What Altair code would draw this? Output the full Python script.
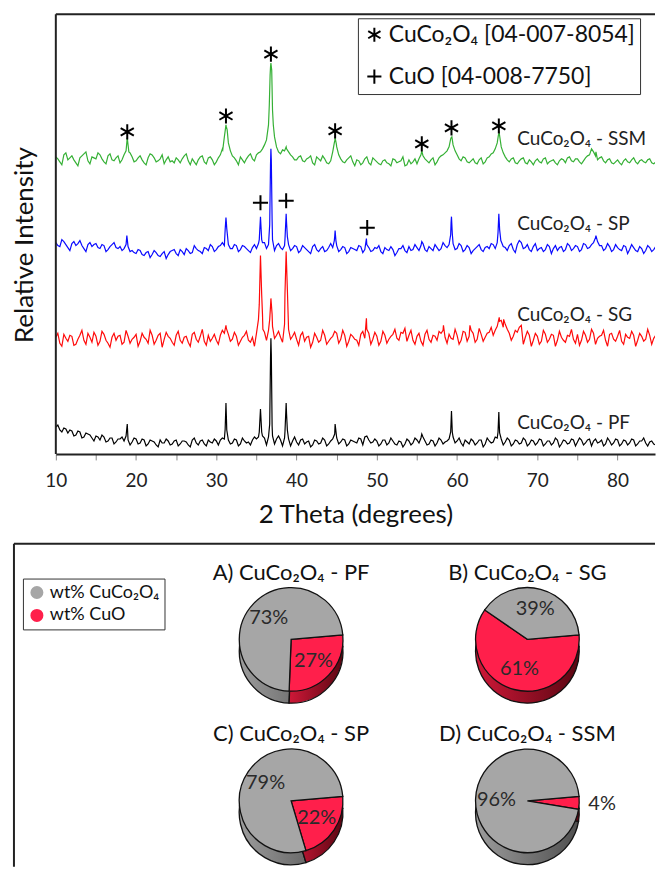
import math
import altair as alt
import pandas as pd

FONT = "Lato"

# ---------------- XRD patterns (relative intensity, arbitrary units incl. offsets) ----------------
two_theta = [round(10 + 0.5 * i, 1) for i in range(151)]
two_theta_mid = [round(10.25 + 0.5 * i, 2) for i in range(150)]

ssm_counts = [
    298, 293, 300, 295, 299, 292, 297, 301, 294, 298,
    296, 300, 293, 299, 295, 297, 292, 300, 310, 298,
    294, 299, 292, 297, 300, 293, 296, 291, 298, 294,
    297, 292, 299, 294, 296, 290, 298, 293, 297, 295,
    293, 300, 318, 312, 299, 294, 298, 292, 299, 296,
    300, 303, 310, 330, 345, 308, 301, 304, 303, 298,
    295, 299, 293, 297, 292, 298, 294, 296, 291, 303,
    308, 296, 292, 297, 293, 295, 290, 296, 292, 297,
    293, 290, 295, 291, 296, 292, 294, 289, 295, 293,
    291, 300, 296, 292, 297, 293, 299, 302, 308, 310,
    300, 294, 297, 292, 296, 291, 297, 293, 298, 302,
    312, 308, 298, 293, 297, 291, 296, 292, 295, 290,
    296, 292, 297, 293, 295, 290, 296, 292, 298, 293,
    296, 291, 297, 300, 303, 295, 298, 292, 296, 291,
    295, 290, 296, 292, 297, 291, 295, 292, 296, 291,
    294,
]
ssm_counts_mid = [
    296, 290, 302, 297, 295, 289, 299, 303, 291, 297,
    302, 296, 291, 301, 294, 299, 295, 304, 302, 293,
    297, 295, 290, 301, 297, 294, 300, 295, 293, 292,
    295, 296, 301, 290, 293, 295, 299, 291, 298, 290,
    297, 306, 328, 304, 297, 290, 295, 296, 301, 294,
    302, 306, 315, 388, 318, 303, 305, 306, 300, 295,
    298, 294, 296, 299, 290, 296, 299, 292, 294, 314,
    300, 293, 295, 299, 289, 294, 292, 298, 290, 295,
    291, 294, 292, 289, 295, 293, 298, 290, 291, 296,
    296, 299, 294, 295, 290, 297, 300, 304, 317, 304,
    296, 298, 293, 294, 292, 295, 291, 297, 301, 306,
    322, 302, 295, 296, 292, 294, 297, 291, 293, 294,
    293, 296, 291, 294, 292, 294, 295, 297, 294, 296,
    293, 294, 299, 306, 299, 297, 294, 295, 292, 293,
    292, 294, 293, 295, 293, 294, 293, 295, 292, 293,
]
ssm_peak_theta = [18.9, 19.1, 30.8, 31.2, 31.35, 36.6, 36.7, 36.8, 36.9, 37.1,
                  38.7, 44.7, 44.8, 44.95, 55.6, 59.2, 59.35, 65.15, 77.3]
ssm_peak_counts = [317, 303, 305, 330, 325, 350, 380, 392, 385, 330,
                   308, 312, 317, 311, 304, 316, 318, 320, 303]

sp_counts = [
    212, 208, 213, 207, 211, 209, 214, 206, 210, 208,
    211, 206, 209, 205, 210, 207, 208, 206, 208, 204,
    201, 204, 199, 203, 200, 202, 198, 203, 200, 204,
    201, 205, 200, 204, 202, 206, 203, 207, 204, 208,
    205, 209, 209, 210, 206, 209, 205, 208, 204, 207,
    206, 238, 212, 210, 215, 209, 207, 209, 210, 206,
    208, 204, 207, 203, 208, 205, 206, 203, 207, 207,
    209, 205, 207, 203, 206, 204, 208, 205, 207, 204,
    206, 203, 207, 204, 205, 202, 206, 204, 208, 205,
    207, 209, 205, 208, 204, 207, 206, 209, 210, 211,
    206, 209, 205, 207, 204, 208, 205, 207, 206, 210,
    212, 213, 207, 209, 205, 210, 212, 207, 205, 208,
    204, 207, 205, 208, 206, 204, 208, 205, 209, 206,
    208, 205, 210, 207, 212, 213, 209, 206, 208, 205,
    207, 204, 208, 205, 207, 203, 206, 204, 207, 205,
    206,
]
sp_counts_mid = [
    209, 215, 210, 204, 213, 211, 209, 203, 212, 210,
    207, 210, 203, 208, 212, 206, 204, 210, 203, 202,
    205, 200, 202, 197, 204, 199, 201, 196, 203, 205,
    199, 203, 206, 201, 209, 204, 201, 206, 210, 203,
    208, 212, 232, 206, 210, 203, 209, 206, 202, 210,
    211, 212, 206, 290, 204, 211, 205, 232, 204, 209,
    202, 209, 205, 201, 210, 203, 208, 204, 211, 218,
    203, 208, 201, 207, 205, 209, 202, 210, 203, 207,
    209, 201, 205, 208, 199, 206, 209, 202, 204, 210,
    204, 211, 203, 206, 210, 204, 212, 207, 232, 205,
    211, 203, 209, 201, 206, 210, 203, 208, 211, 206,
    233, 208, 204, 211, 202, 214, 206, 210, 203, 211,
    206, 203, 210, 201, 209, 207, 203, 211, 204, 209,
    203, 211, 206, 210, 217, 209, 204, 211, 203, 210,
    205, 209, 201, 210, 204, 208, 201, 209, 203, 208,
]
sp_peak_theta = [18.85, 31.1, 31.2, 31.3, 35.35, 35.65, 36.65, 36.8, 36.85, 36.95,
                 38.55, 38.7, 38.85, 44.7, 44.8, 44.9, 48.7, 55.6, 59.2, 59.3, 59.4,
                 65.1, 65.2, 65.3, 65.45, 77.3]
sp_peak_counts = [219, 225, 237, 226, 215, 215, 230, 306, 295, 235,
                  215, 241, 218, 214, 224, 214, 216, 213, 220, 238, 221,
                  222, 241, 225, 214, 219]

sg_counts = [
    117, 111, 120, 113, 118, 110, 119, 114, 121, 112,
    118, 113, 120, 111, 117, 114, 119, 112, 118, 115,
    120, 113, 117, 111, 119, 114, 121, 115, 118, 112,
    119, 114, 117, 112, 120, 115, 118, 113, 119, 116,
    114, 119, 121, 120, 115, 118, 113, 119, 114, 117,
    121, 199, 122, 124, 128, 119, 117, 130, 125, 118,
    115, 119, 113, 118, 112, 117, 114, 119, 113, 118,
    121, 115, 119, 113, 118, 114, 120, 116, 121, 115,
    118, 113, 119, 115, 120, 116, 122, 126, 119, 114,
    118, 113, 120, 115, 119, 114, 121, 117, 120, 115,
    119, 114, 122, 118, 121, 115, 120, 117, 122, 119,
    128, 134, 130, 121, 118, 122, 129, 117, 119, 114,
    118, 113, 120, 115, 119, 114, 117, 112, 118, 115,
    120, 114, 119, 115, 121, 116, 119, 114, 120, 115,
    118, 113, 120, 116, 119, 114, 118, 115, 119, 116,
    117,
]
sg_counts_mid = [
    121, 108, 116, 119, 109, 115, 124, 110, 117, 122,
    109, 123, 114, 107, 121, 118, 110, 124, 111, 117,
    108, 121, 115, 124, 110, 119, 107, 122, 116, 109,
    123, 111, 118, 108, 122, 112, 125, 109, 113, 120,
    110, 124, 126, 113, 122, 109, 117, 123, 112, 108,
    135, 140, 114, 148, 116, 123, 112, 190, 115, 122,
    109, 122, 117, 107, 121, 112, 124, 110, 116, 123,
    111, 124, 108, 120, 115, 109, 123, 125, 110, 122,
    109, 123, 111, 118, 125, 114, 121, 113, 124, 110,
    121, 109, 124, 112, 118, 123, 124, 111, 116, 125,
    110, 123, 113, 124, 112, 126, 113, 121, 127, 124,
    137, 127, 125, 114, 124, 127, 110, 123, 108, 121,
    110, 124, 112, 120, 108, 123, 114, 119, 125, 111,
    109, 123, 112, 125, 110, 118, 124, 108, 121, 113,
    124, 110, 117, 123, 108, 121, 113, 125, 110, 119,
]
sg_peak_theta = [31.2, 35.35, 35.65, 35.8, 36.65, 36.8, 36.95, 38.55, 38.7, 38.85,
                 48.7, 58.3, 61.6, 65.3, 65.8]
sg_peak_counts = [129, 150, 160, 125, 135, 156, 140, 160, 203, 165,
                  136, 129, 129, 133, 135]

pf_counts = [
    27, 24, 26, 21, 23, 19, 22, 17, 20, 16,
    18, 14, 17, 13, 16, 12, 15, 13, 14, 12,
    15, 11, 14, 10, 13, 9, 14, 11, 13, 10,
    14, 10, 13, 9, 14, 11, 13, 10, 14, 11,
    13, 14, 15, 14, 11, 14, 10, 13, 12, 14,
    15, 45, 16, 17, 18, 15, 14, 16, 15, 13,
    12, 14, 10, 13, 9, 13, 11, 14, 10, 15,
    16, 12, 14, 10, 13, 11, 15, 17, 14, 12,
    13, 10, 14, 11, 13, 9, 12, 10, 13, 11,
    14, 16, 13, 10, 13, 11, 14, 12, 15, 17,
    13, 11, 14, 10, 13, 11, 14, 10, 13, 12,
    16, 15, 12, 14, 10, 13, 11, 14, 10, 13,
    11, 14, 10, 13, 11, 14, 10, 13, 11, 14,
    12, 14, 11, 15, 13, 11, 14, 10, 13, 11,
    14, 10, 13, 11, 14, 10, 13, 11, 12, 10,
    12,
]
pf_counts_mid = [
    29, 22, 25, 24, 18, 23, 16, 21, 19, 13,
    17, 19, 12, 16, 10, 15, 17, 18, 9, 16,
    10, 15, 8, 14, 12, 7, 11, 15, 9, 13,
    8, 13, 12, 7, 16, 9, 14, 8, 12, 15,
    9, 16, 38, 10, 15, 8, 16, 11, 9, 17,
    17, 18, 9, 95, 10, 18, 8, 40, 8, 17,
    9, 15, 12, 7, 14, 10, 16, 8, 13, 20,
    10, 15, 8, 14, 12, 16, 9, 18, 11, 15,
    8, 14, 9, 16, 10, 13, 7, 15, 9, 16,
    11, 17, 9, 14, 8, 16, 10, 13, 32, 11,
    16, 8, 12, 15, 9, 14, 7, 16, 11, 17,
    30, 9, 16, 8, 14, 10, 16, 8, 14, 9,
    15, 8, 13, 9, 16, 7, 14, 10, 15, 8,
    16, 9, 14, 8, 15, 12, 8, 16, 9, 15,
    8, 14, 9, 15, 8, 13, 16, 8, 13, 9,
]
pf_peak_theta = [18.9, 31.1, 31.2, 31.3, 35.35, 35.65, 36.65, 36.8, 36.85, 36.95,
                 38.55, 38.7, 38.85, 44.8, 55.6, 59.2, 59.3, 59.4, 65.1, 65.2, 65.3]
pf_peak_counts = [30, 25, 51, 24, 22, 22, 30, 116, 100, 28,
                  22, 51, 24, 30, 20, 22, 43, 22, 22, 42, 21]

series_names = ["CuCo₂O₄ - SSM", "CuCo₂O₄ - SP", "CuCo₂O₄ - SG", "CuCo₂O₄ - PF"]
series_colors = ["#35b035", "#0a0aff", "#ff0a0a", "#000000"]
label_theta = [67.5, 67.5, 67.5, 67.5]
label_counts = [316, 231, 139, 31]

# phase markers
phase_names = ["CuCo₂O₄ [04-007-8054]", "CuO [04-008-7750]"]
spinel_theta = [18.9, 31.2, 36.8, 44.8, 55.6, 59.3, 65.2]
spinel_counts = [323, 339, 401, 324, 311, 327, 329]
cuo_theta = [35.5, 38.7, 48.8]
cuo_counts = [252, 254, 227]

# ---------------- phase fractions ----------------
pie_letters = ["A", "B", "C", "D"]
pie_samples = ["PF", "SG", "SP", "SSM"]
cuco2o4_wt = [73, 39, 79, 96]
cuo_wt = [27, 61, 22, 4]
comp_names = ["wt% CuCo₂O₄", "wt% CuO"]

# ---------------- tables ----------------
frames = []
sets = [(ssm_counts, ssm_counts_mid, ssm_peak_theta, ssm_peak_counts),
        (sp_counts, sp_counts_mid, sp_peak_theta, sp_peak_counts),
        (sg_counts, sg_counts_mid, sg_peak_theta, sg_peak_counts),
        (pf_counts, pf_counts_mid, pf_peak_theta, pf_peak_counts)]
for name, (grid_y, mid_y, pk_x, pk_y) in zip(series_names, sets):
    d = pd.DataFrame({"theta": two_theta + two_theta_mid + pk_x, "counts": grid_y + mid_y + pk_y})
    d["series"] = name
    frames.append(d.sort_values("theta"))
xrd_df = pd.concat(frames, ignore_index=True)

labels_df = pd.DataFrame({"text": series_names, "theta": label_theta, "counts": label_counts})

markers_df = pd.concat([
    pd.DataFrame({"theta": spinel_theta, "counts": spinel_counts, "phase": phase_names[0]}),
    pd.DataFrame({"theta": cuo_theta, "counts": cuo_counts, "phase": phase_names[1]}),
], ignore_index=True)
one_row = pd.DataFrame({"k": [0]})

ASTERISK = "M0,-1L0,1M-0.87,-0.5L0.87,0.5M-0.87,0.5L0.87,-0.5"
PLUS = "M-1,0L1,0M0,-1L0,1"

W = 643          # width of both panels
PLOT_LEFT = 42   # where the diffractogram frame starts inside the top panel
X_MIN, X_MAX = 10, 84.66
Y_MAX = 441
x_scale = alt.Scale(domain=[X_MIN, X_MAX], range=[PLOT_LEFT, W], nice=False, zero=False)
y_scale = alt.Scale(domain=[0, Y_MAX], nice=False, zero=False)
FRAME = "#222222"

XAX = alt.Axis(
    orient="bottom", values=list(range(10, 85, 5)), domain=True, domainColor=FRAME, domainWidth=2,
    labelExpr="datum.value % 10 == 0 ? datum.label : ''",
    tickSize=6, tickColor="#8a8a8a", tickWidth=1,
    labelFontSize=19, labelPadding=12, labelColor="#222222", labelFont=FONT,
    title="2 Theta (degrees)", titleFontSize=26, titleFontWeight="normal", titleFont=FONT,
    titleColor="#111111", titlePadding=11, grid=False, labelFlush=False)
YAX = alt.Axis(
    orient="left", ticks=False, labels=False, grid=False, domain=False,
    title="Relative Intensity", titleFontSize=26, titleFontWeight="normal", titleFont=FONT,
    titleColor="#111111", titleX=11, titleY=231, titleAngle=270, titleAlign="center",
    titleBaseline="middle")

lines = alt.Chart(xrd_df).mark_line(strokeWidth=1.2, clip=True).encode(
    x=alt.X("theta:Q", scale=x_scale, axis=XAX),
    y=alt.Y("counts:Q", scale=y_scale, axis=YAX),
    color=alt.Color("series:N", scale=alt.Scale(domain=series_names, range=series_colors), legend=None),
    order="theta:Q",
)

labels = alt.Chart(labels_df).mark_text(align="left", baseline="middle", fontSize=19, font=FONT,
                                        color="#222222").encode(
    x=alt.X("theta:Q", scale=x_scale, axis=XAX),
    y=alt.Y("counts:Q", scale=y_scale, axis=YAX),
    text="text:N",
)

markers = alt.Chart(markers_df).mark_point(filled=False, color="black", strokeWidth=2, size=230,
                                           opacity=1).encode(
    x=alt.X("theta:Q", scale=x_scale, axis=XAX),
    y=alt.Y("counts:Q", scale=y_scale, axis=YAX),
    shape=alt.Shape("phase:N", scale=alt.Scale(domain=phase_names, range=[ASTERISK, PLUS]),
                    legend=alt.Legend(orient="none", legendX=345, legendY=4, title=None,
                                      labelFontSize=23, labelFont=FONT, labelColor="#111111",
                                      symbolSize=200, symbolStrokeWidth=2, symbolStrokeColor="black",
                                      symbolFillColor="transparent", strokeColor="#333333",
                                      padding=5, rowPadding=18, labelOffset=3, labelLimit=400)),
)

# frame of the diffractogram (top and left edges), placed through the data scales
frame_top = alt.Chart(one_row).mark_rule(color=FRAME, strokeWidth=2).encode(
    x=alt.XDatum(X_MIN, scale=x_scale, axis=XAX), x2=alt.X2Datum(X_MAX),
    y=alt.YDatum(Y_MAX, scale=y_scale, axis=YAX))
frame_left = alt.Chart(one_row).mark_rule(color=FRAME, strokeWidth=2).encode(
    x=alt.XDatum(X_MIN, scale=x_scale, axis=XAX),
    y=alt.YDatum(0, scale=y_scale, axis=YAX), y2=alt.Y2Datum(Y_MAX))

xrd = alt.layer(lines, labels, markers, frame_top, frame_left).properties(width=W, height=441)

# ---------------- pies ----------------
rows = []
for i, (letter, sample, a, b) in enumerate(zip(pie_letters, pie_samples, cuco2o4_wt, cuo_wt)):
    total = a + b
    col, row = i % 2, i // 2
    rows.append(dict(panel=letter, component=comp_names[1], pct=b, start=0.0, end=b / total,
                     col=col, row=row))
    rows.append(dict(panel=letter, component=comp_names[0], pct=a, start=b / total, end=1.0,
                     col=col, row=row))
pie_df = pd.DataFrame(rows)
pie_df["mid"] = (pie_df["start"] + pie_df["end"]) / 2
pie_df["label"] = pie_df["pct"].astype(str) + "%"

titles_df = pd.DataFrame({
    "title": [f"{l}) CuCo₂O₄ - {s}" for l, s in zip(pie_letters, pie_samples)],
    "col": [i % 2 for i in range(4)],
    "row": [i // 2 for i in range(4)],
})

START = math.radians(85)
theta_scale = alt.Scale(domain=[0, 1], range=[START, START + 2 * math.pi])
PH = 324
PX0, PX1 = -1.173, 1.5401
PY0, PY1 = -0.5926, 1.4074
px_scale = alt.Scale(domain=[PX0, PX1], nice=False, zero=False)
py_scale = alt.Scale(domain=[PY0, PY1], nice=False, zero=False, reverse=True)
R = 52
DEPTH = 12

pos = dict(x=alt.X("col:Q", scale=px_scale, axis=None), y=alt.Y("row:Q", scale=py_scale, axis=None))
th = alt.Theta("start:Q", scale=theta_scale, stack=None)

gray_side = alt.Gradient(gradient="linear", x1=0, x2=1, y1=0, y2=0, stops=[
    alt.GradientStop(offset=0, color="#9c9c9c"), alt.GradientStop(offset=1, color="#4f4f4f")])
red_side = alt.Gradient(gradient="linear", x1=0, x2=1, y1=0, y2=0, stops=[
    alt.GradientStop(offset=0, color="#cf1838"), alt.GradientStop(offset=1, color="#5a0612")])

side_gray = alt.Chart(pie_df).transform_filter(alt.datum.component == comp_names[0]).mark_arc(
    radius=R, yOffset=DEPTH, stroke="#111111", strokeWidth=1.3, fill=gray_side).encode(
    theta=th, theta2="end:Q", **pos)
side_red = alt.Chart(pie_df).transform_filter(alt.datum.component == comp_names[1]).mark_arc(
    radius=R, yOffset=DEPTH, stroke="#111111", strokeWidth=1.3, fill=red_side).encode(
    theta=th, theta2="end:Q", **pos)

top = alt.Chart(pie_df).mark_arc(radius=R, stroke="#111111", strokeWidth=1.3).encode(
    theta=th,
    theta2="end:Q",
    color=alt.Color("component:N", scale=alt.Scale(domain=comp_names, range=["#a6a6a6", "#ff1f4b"]),
                    legend=alt.Legend(orient="none", legendX=9, legendY=35, title=None,
                                      labelFontSize=18, labelFont=FONT, labelColor="#111111",
                                      symbolType="circle", symbolSize=170, symbolStrokeWidth=0,
                                      strokeColor="#333333", padding=5, rowPadding=5,
                                      labelOffset=4)),
    **pos,
)

inner = alt.Chart(pie_df).transform_filter("datum.pct >= 10").mark_text(
    fontSize=20, font=FONT, color="#2a2a2a", align="center", baseline="middle").encode(
    theta=alt.Theta("mid:Q", scale=theta_scale, stack=None),
    radius=alt.value(31),
    text="label:N",
    **pos,
)

outer = alt.Chart(pie_df).transform_filter("datum.pct < 10").mark_text(
    fontSize=20, font=FONT, color="#2a2a2a", align="center", baseline="middle").encode(
    theta=alt.Theta("mid:Q", scale=theta_scale, stack=None),
    radius=alt.value(75),
    text="label:N",
    **pos,
)

titles = alt.Chart(titles_df).mark_text(fontSize=22, font=FONT, color="#111111", dy=-67,
                                        baseline="middle").encode(text="title:N", **pos)

box_top = alt.Chart(one_row).mark_rule(color=FRAME, strokeWidth=2).encode(
    x=alt.XDatum(PX0, scale=px_scale, axis=None), x2=alt.X2Datum(PX1),
    y=alt.YDatum(PY0, scale=py_scale, axis=None))
box_left = alt.Chart(one_row).mark_rule(color=FRAME, strokeWidth=2).encode(
    x=alt.XDatum(PX0, scale=px_scale, axis=None),
    y=alt.YDatum(PY0, scale=py_scale, axis=None), y2=alt.Y2Datum(PY1))

pies = alt.layer(side_gray, side_red, top, inner, outer, titles, box_top, box_left).properties(
    width=W, height=PH)

chart = alt.vconcat(xrd, pies, spacing=15).resolve_scale(
    x="independent", y="independent", color="independent", shape="independent", theta="independent"
).resolve_legend(color="independent", shape="independent").properties(
    padding={"left": 11, "top": 12, "right": 0, "bottom": 0}
).configure(
    font=FONT, background="white", view=alt.ViewConfig(stroke="transparent", strokeWidth=0)
)

chart.save("out.html", embed_options={"renderer": "svg", "actions": False})
